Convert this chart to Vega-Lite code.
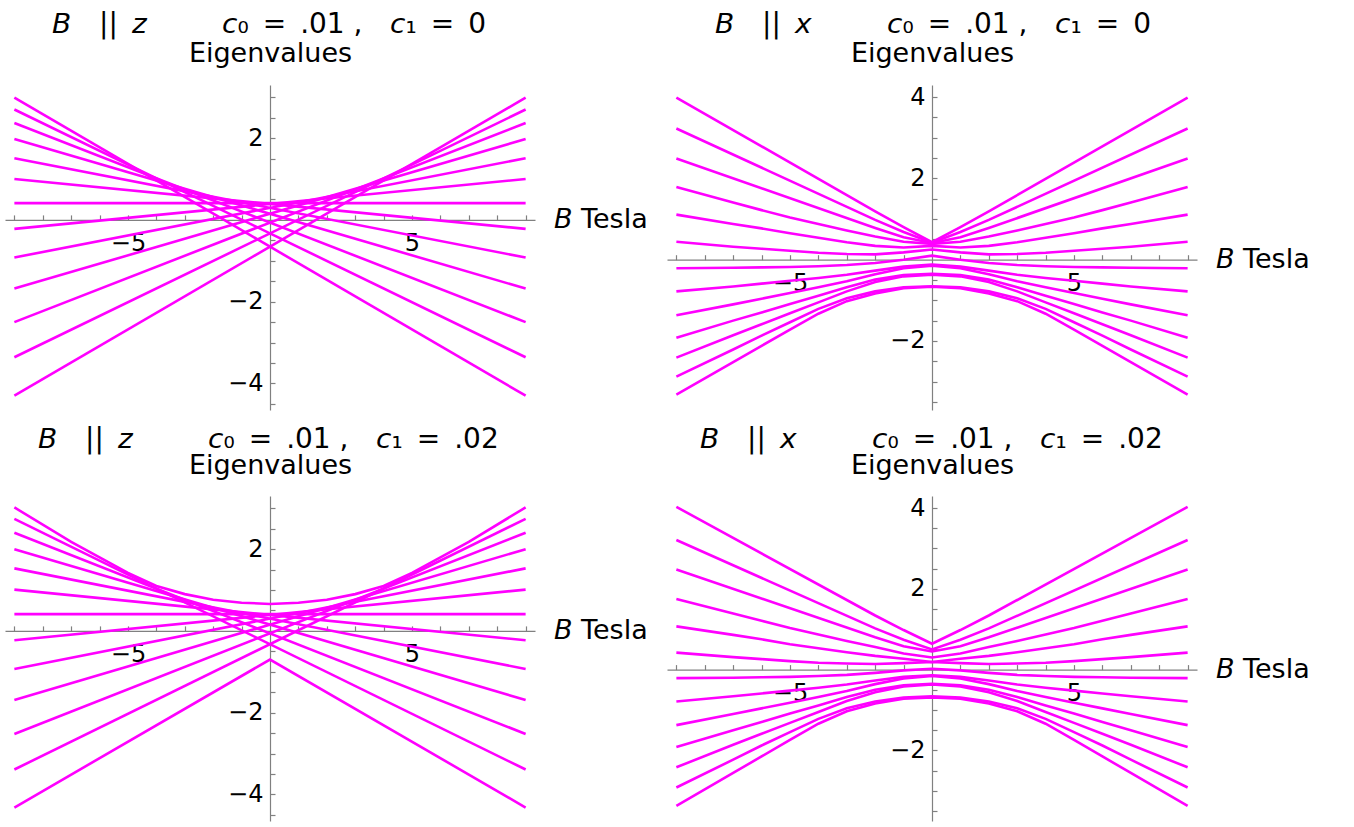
{
  "$schema": "https://vega.github.io/schema/vega-lite/v6.json",
  "background": "white",
  "padding": {"left": 5, "top": 11, "right": 5, "bottom": 5},
  "columns": 2,
  "spacing": {"row": 86, "column": 132},
  "bounds": "flush",
  "datasets": {
    "tl": [
      {"s":-6,"B":-9,"E":2.99},{"s":-6,"B":9,"E":-4.30},
      {"s":-5,"B":-9,"E":2.70},{"s":-5,"B":9,"E":-3.36},
      {"s":-4,"B":-9,"E":2.37},{"s":-4,"B":9,"E":-2.50},
      {"s":-3,"B":-9,"E":1.98},{"s":-3,"B":9,"E":-1.68},
      {"s":-2,"B":-9,"E":1.51},{"s":-2,"B":9,"E":-0.92},
      {"s":-1,"B":-9,"E":1.00},{"s":-1,"B":9,"E":-0.22},
      {"s":0,"B":-9,"E":0.41},{"s":0,"B":9,"E":0.41},
      {"s":1,"B":-9,"E":-0.22},{"s":1,"B":9,"E":1.00},
      {"s":2,"B":-9,"E":-0.92},{"s":2,"B":9,"E":1.51},
      {"s":3,"B":-9,"E":-1.68},{"s":3,"B":9,"E":1.98},
      {"s":4,"B":-9,"E":-2.50},{"s":4,"B":9,"E":2.37},
      {"s":5,"B":-9,"E":-3.36},{"s":5,"B":9,"E":2.70},
      {"s":6,"B":-9,"E":-4.30},{"s":6,"B":9,"E":2.99}
    ],
    "bl": [
      {"s":"u","B":-9,"E":3.02},{"s":"u","B":-7,"E":2.18},{"s":"u","B":-6,"E":1.80},{"s":"u","B":-5,"E":1.42},{"s":"u","B":-4,"E":1.10},{"s":"u","B":-3,"E":0.90},{"s":"u","B":-2,"E":0.76},{"s":"u","B":-1,"E":0.69},{"s":"u","B":0,"E":0.66},{"s":"u","B":1,"E":0.69},{"s":"u","B":2,"E":0.76},{"s":"u","B":3,"E":0.90},{"s":"u","B":4,"E":1.10},{"s":"u","B":5,"E":1.42},{"s":"u","B":6,"E":1.80},{"s":"u","B":7,"E":2.18},{"s":"u","B":9,"E":3.02},
      {"s":"d","B":-9,"E":-4.32},{"s":"d","B":0,"E":-0.70},{"s":"d","B":9,"E":-4.32},
      {"s":"-5","B":-9,"E":2.74},{"s":"-5","B":9,"E":-3.39},
      {"s":"-4","B":-9,"E":2.40},{"s":"-4","B":9,"E":-2.52},
      {"s":"-3","B":-9,"E":2.00},{"s":"-3","B":9,"E":-1.69},
      {"s":"-2","B":-9,"E":1.53},{"s":"-2","B":9,"E":-0.93},
      {"s":"-1","B":-9,"E":1.01},{"s":"-1","B":9,"E":-0.23},
      {"s":"0","B":-9,"E":0.41},{"s":"0","B":9,"E":0.41},
      {"s":"1","B":-9,"E":-0.23},{"s":"1","B":9,"E":1.01},
      {"s":"2","B":-9,"E":-0.93},{"s":"2","B":9,"E":1.53},
      {"s":"3","B":-9,"E":-1.69},{"s":"3","B":9,"E":2.00},
      {"s":"4","B":-9,"E":-2.52},{"s":"4","B":9,"E":2.40},
      {"s":"5","B":-9,"E":-3.39},{"s":"5","B":9,"E":2.74}
    ],
    "tr": [
      {"s":6,"B":-9,"E":3.99},{"s":6,"B":-2,"E":1.19},{"s":6,"B":-1,"E":0.80},{"s":6,"B":0,"E":0.43},{"s":6,"B":1,"E":0.80},{"s":6,"B":2,"E":1.19},{"s":6,"B":9,"E":3.99},
      {"s":5,"B":-9,"E":3.23},{"s":5,"B":-2,"E":0.98},{"s":5,"B":-1,"E":0.68},{"s":5,"B":0,"E":0.42},{"s":5,"B":1,"E":0.68},{"s":5,"B":2,"E":0.98},{"s":5,"B":9,"E":3.23},
      {"s":4,"B":-9,"E":2.49},{"s":4,"B":-2,"E":0.78},{"s":4,"B":-1,"E":0.55},{"s":4,"B":0,"E":0.41},{"s":4,"B":1,"E":0.55},{"s":4,"B":2,"E":0.78},{"s":4,"B":9,"E":2.49},
      {"s":3,"B":-9,"E":1.79},{"s":3,"B":-7,"E":1.41},{"s":3,"B":-6,"E":1.22},{"s":3,"B":-5,"E":1.04},{"s":3,"B":-4,"E":0.88},{"s":3,"B":-3,"E":0.72},{"s":3,"B":-2,"E":0.57},{"s":3,"B":-1,"E":0.44},{"s":3,"B":0,"E":0.39},{"s":3,"B":1,"E":0.44},{"s":3,"B":2,"E":0.57},{"s":3,"B":3,"E":0.72},{"s":3,"B":4,"E":0.88},{"s":3,"B":5,"E":1.04},{"s":3,"B":6,"E":1.22},{"s":3,"B":7,"E":1.41},{"s":3,"B":9,"E":1.79},
      {"s":2,"B":-9,"E":1.11},{"s":2,"B":-7,"E":0.88},{"s":2,"B":-6,"E":0.77},{"s":2,"B":-5,"E":0.65},{"s":2,"B":-4,"E":0.54},{"s":2,"B":-3,"E":0.43},{"s":2,"B":-2,"E":0.34},{"s":2,"B":-1,"E":0.30},{"s":2,"B":0,"E":0.34},{"s":2,"B":1,"E":0.30},{"s":2,"B":2,"E":0.34},{"s":2,"B":3,"E":0.43},{"s":2,"B":4,"E":0.54},{"s":2,"B":5,"E":0.65},{"s":2,"B":6,"E":0.77},{"s":2,"B":7,"E":0.88},{"s":2,"B":9,"E":1.11},
      {"s":1,"B":-9,"E":0.44},{"s":1,"B":-7,"E":0.32},{"s":1,"B":-6,"E":0.27},{"s":1,"B":-5,"E":0.22},{"s":1,"B":-4,"E":0.17},{"s":1,"B":-3,"E":0.14},{"s":1,"B":-2,"E":0.13},{"s":1,"B":-1,"E":0.18},{"s":1,"B":0,"E":0.25},{"s":1,"B":1,"E":0.18},{"s":1,"B":2,"E":0.13},{"s":1,"B":3,"E":0.14},{"s":1,"B":4,"E":0.17},{"s":1,"B":5,"E":0.22},{"s":1,"B":6,"E":0.27},{"s":1,"B":7,"E":0.32},{"s":1,"B":9,"E":0.44},
      {"s":0,"B":-9,"E":-0.21},{"s":0,"B":-7,"E":-0.20},{"s":0,"B":-6,"E":-0.19},{"s":0,"B":-5,"E":-0.18},{"s":0,"B":-4,"E":-0.16},{"s":0,"B":-3,"E":-0.13},{"s":0,"B":-2,"E":-0.08},{"s":0,"B":-1,"E":0.00},{"s":0,"B":0,"E":0.10},{"s":0,"B":1,"E":0.00},{"s":0,"B":2,"E":-0.08},{"s":0,"B":3,"E":-0.13},{"s":0,"B":4,"E":-0.16},{"s":0,"B":5,"E":-0.18},{"s":0,"B":6,"E":-0.19},{"s":0,"B":7,"E":-0.20},{"s":0,"B":9,"E":-0.21},
      {"s":-1,"B":-9,"E":-0.78},{"s":-1,"B":-7,"E":-0.66},{"s":-1,"B":-6,"E":-0.59},{"s":-1,"B":-5,"E":-0.52},{"s":-1,"B":-4,"E":-0.45},{"s":-1,"B":-3,"E":-0.37},{"s":-1,"B":-2,"E":-0.27},{"s":-1,"B":-1,"E":-0.17},{"s":-1,"B":0,"E":-0.12},{"s":-1,"B":1,"E":-0.17},{"s":-1,"B":2,"E":-0.27},{"s":-1,"B":3,"E":-0.37},{"s":-1,"B":4,"E":-0.45},{"s":-1,"B":5,"E":-0.52},{"s":-1,"B":6,"E":-0.59},{"s":-1,"B":7,"E":-0.66},{"s":-1,"B":9,"E":-0.78},
      {"s":-2,"B":-9,"E":-1.37},{"s":-2,"B":-7,"E":-1.10},{"s":-2,"B":-6,"E":-0.96},{"s":-2,"B":-5,"E":-0.82},{"s":-2,"B":-4,"E":-0.68},{"s":-2,"B":-3,"E":-0.53},{"s":-2,"B":-2,"E":-0.36},{"s":-2,"B":-1,"E":-0.21},{"s":-2,"B":0,"E":-0.15},{"s":-2,"B":1,"E":-0.21},{"s":-2,"B":2,"E":-0.36},{"s":-2,"B":3,"E":-0.53},{"s":-2,"B":4,"E":-0.68},{"s":-2,"B":5,"E":-0.82},{"s":-2,"B":6,"E":-0.96},{"s":-2,"B":7,"E":-1.10},{"s":-2,"B":9,"E":-1.37},
      {"s":-3,"B":-9,"E":-1.92},{"s":-3,"B":-7,"E":-1.50},{"s":-3,"B":-6,"E":-1.30},{"s":-3,"B":-5,"E":-1.09},{"s":-3,"B":-4,"E":-0.89},{"s":-3,"B":-3,"E":-0.68},{"s":-3,"B":-2,"E":-0.49},{"s":-3,"B":-1,"E":-0.38},{"s":-3,"B":0,"E":-0.35},{"s":-3,"B":1,"E":-0.38},{"s":-3,"B":2,"E":-0.49},{"s":-3,"B":3,"E":-0.68},{"s":-3,"B":4,"E":-0.89},{"s":-3,"B":5,"E":-1.09},{"s":-3,"B":6,"E":-1.30},{"s":-3,"B":7,"E":-1.50},{"s":-3,"B":9,"E":-1.92},
      {"s":-4,"B":-9,"E":-2.41},{"s":-4,"B":-7,"E":-1.86},{"s":-4,"B":-6,"E":-1.59},{"s":-4,"B":-5,"E":-1.32},{"s":-4,"B":-4,"E":-1.05},{"s":-4,"B":-3,"E":-0.78},{"s":-4,"B":-2,"E":-0.55},{"s":-4,"B":-1,"E":-0.41},{"s":-4,"B":0,"E":-0.37},{"s":-4,"B":1,"E":-0.41},{"s":-4,"B":2,"E":-0.55},{"s":-4,"B":3,"E":-0.78},{"s":-4,"B":4,"E":-1.05},{"s":-4,"B":5,"E":-1.32},{"s":-4,"B":6,"E":-1.59},{"s":-4,"B":7,"E":-1.86},{"s":-4,"B":9,"E":-2.41},
      {"s":-5,"B":-9,"E":-2.88},{"s":-5,"B":-7,"E":-2.21},{"s":-5,"B":-6,"E":-1.87},{"s":-5,"B":-5,"E":-1.54},{"s":-5,"B":-4,"E":-1.21},{"s":-5,"B":-3,"E":-0.95},{"s":-5,"B":-2,"E":-0.78},{"s":-5,"B":-1,"E":-0.68},{"s":-5,"B":0,"E":-0.655},{"s":-5,"B":1,"E":-0.68},{"s":-5,"B":2,"E":-0.78},{"s":-5,"B":3,"E":-0.95},{"s":-5,"B":4,"E":-1.21},{"s":-5,"B":5,"E":-1.54},{"s":-5,"B":6,"E":-1.87},{"s":-5,"B":7,"E":-2.21},{"s":-5,"B":9,"E":-2.88},
      {"s":-6,"B":-9,"E":-3.32},{"s":-6,"B":-7,"E":-2.52},{"s":-6,"B":-6,"E":-2.12},{"s":-6,"B":-5,"E":-1.72},{"s":-6,"B":-4,"E":-1.33},{"s":-6,"B":-3,"E":-1.02},{"s":-6,"B":-2,"E":-0.83},{"s":-6,"B":-1,"E":-0.70},{"s":-6,"B":0,"E":-0.665},{"s":-6,"B":1,"E":-0.70},{"s":-6,"B":2,"E":-0.83},{"s":-6,"B":3,"E":-1.02},{"s":-6,"B":4,"E":-1.33},{"s":-6,"B":5,"E":-1.72},{"s":-6,"B":6,"E":-2.12},{"s":-6,"B":7,"E":-2.52},{"s":-6,"B":9,"E":-3.32}
    ],
    "br": [
      {"s":6,"B":-9,"E":4.03},{"s":6,"B":-2,"E":1.34},{"s":6,"B":-1,"E":0.98},{"s":6,"B":0,"E":0.64},{"s":6,"B":1,"E":0.98},{"s":6,"B":2,"E":1.34},{"s":6,"B":9,"E":4.03},
      {"s":5,"B":-9,"E":3.21},{"s":5,"B":-2,"E":1.02},{"s":5,"B":-1,"E":0.74},{"s":5,"B":0,"E":0.50},{"s":5,"B":1,"E":0.74},{"s":5,"B":2,"E":1.02},{"s":5,"B":9,"E":3.21},
      {"s":4,"B":-9,"E":2.48},{"s":4,"B":-2,"E":0.80},{"s":4,"B":-1,"E":0.58},{"s":4,"B":0,"E":0.45},{"s":4,"B":1,"E":0.58},{"s":4,"B":2,"E":0.80},{"s":4,"B":9,"E":2.48},
      {"s":3,"B":-9,"E":1.75},{"s":3,"B":-7,"E":1.39},{"s":3,"B":-6,"E":1.21},{"s":3,"B":-5,"E":1.03},{"s":3,"B":-4,"E":0.87},{"s":3,"B":-3,"E":0.71},{"s":3,"B":-2,"E":0.56},{"s":3,"B":-1,"E":0.40},{"s":3,"B":0,"E":0.30},{"s":3,"B":1,"E":0.40},{"s":3,"B":2,"E":0.56},{"s":3,"B":3,"E":0.71},{"s":3,"B":4,"E":0.87},{"s":3,"B":5,"E":1.03},{"s":3,"B":6,"E":1.21},{"s":3,"B":7,"E":1.39},{"s":3,"B":9,"E":1.75},
      {"s":2,"B":-9,"E":1.07},{"s":2,"B":-7,"E":0.86},{"s":2,"B":-6,"E":0.75},{"s":2,"B":-5,"E":0.63},{"s":2,"B":-4,"E":0.53},{"s":2,"B":-3,"E":0.43},{"s":2,"B":-2,"E":0.34},{"s":2,"B":-1,"E":0.27},{"s":2,"B":0,"E":0.19},{"s":2,"B":1,"E":0.27},{"s":2,"B":2,"E":0.34},{"s":2,"B":3,"E":0.43},{"s":2,"B":4,"E":0.53},{"s":2,"B":5,"E":0.63},{"s":2,"B":6,"E":0.75},{"s":2,"B":7,"E":0.86},{"s":2,"B":9,"E":1.07},
      {"s":1,"B":-9,"E":0.42},{"s":1,"B":-7,"E":0.31},{"s":1,"B":-6,"E":0.26},{"s":1,"B":-5,"E":0.21},{"s":1,"B":-4,"E":0.17},{"s":1,"B":-3,"E":0.15},{"s":1,"B":-2,"E":0.14},{"s":1,"B":-1,"E":0.16},{"s":1,"B":0,"E":0.19},{"s":1,"B":1,"E":0.16},{"s":1,"B":2,"E":0.14},{"s":1,"B":3,"E":0.15},{"s":1,"B":4,"E":0.17},{"s":1,"B":5,"E":0.21},{"s":1,"B":6,"E":0.26},{"s":1,"B":7,"E":0.31},{"s":1,"B":9,"E":0.42},
      {"s":0,"B":-9,"E":-0.21},{"s":0,"B":-7,"E":-0.20},{"s":0,"B":-6,"E":-0.19},{"s":0,"B":-5,"E":-0.18},{"s":0,"B":-4,"E":-0.16},{"s":0,"B":-3,"E":-0.13},{"s":0,"B":-2,"E":-0.08},{"s":0,"B":-1,"E":-0.02},{"s":0,"B":0,"E":0.02},{"s":0,"B":1,"E":-0.02},{"s":0,"B":2,"E":-0.08},{"s":0,"B":3,"E":-0.13},{"s":0,"B":4,"E":-0.16},{"s":0,"B":5,"E":-0.18},{"s":0,"B":6,"E":-0.19},{"s":0,"B":7,"E":-0.20},{"s":0,"B":9,"E":-0.21},
      {"s":-1,"B":-9,"E":-0.79},{"s":-1,"B":-7,"E":-0.66},{"s":-1,"B":-6,"E":-0.59},{"s":-1,"B":-5,"E":-0.52},{"s":-1,"B":-4,"E":-0.45},{"s":-1,"B":-3,"E":-0.37},{"s":-1,"B":-2,"E":-0.27},{"s":-1,"B":-1,"E":-0.18},{"s":-1,"B":0,"E":-0.14},{"s":-1,"B":1,"E":-0.18},{"s":-1,"B":2,"E":-0.27},{"s":-1,"B":3,"E":-0.37},{"s":-1,"B":4,"E":-0.45},{"s":-1,"B":5,"E":-0.52},{"s":-1,"B":6,"E":-0.59},{"s":-1,"B":7,"E":-0.66},{"s":-1,"B":9,"E":-0.79},
      {"s":-2,"B":-9,"E":-1.375},{"s":-2,"B":-7,"E":-1.10},{"s":-2,"B":-6,"E":-0.96},{"s":-2,"B":-5,"E":-0.82},{"s":-2,"B":-4,"E":-0.68},{"s":-2,"B":-3,"E":-0.53},{"s":-2,"B":-2,"E":-0.36},{"s":-2,"B":-1,"E":-0.22},{"s":-2,"B":0,"E":-0.16},{"s":-2,"B":1,"E":-0.22},{"s":-2,"B":2,"E":-0.36},{"s":-2,"B":3,"E":-0.53},{"s":-2,"B":4,"E":-0.68},{"s":-2,"B":5,"E":-0.82},{"s":-2,"B":6,"E":-0.96},{"s":-2,"B":7,"E":-1.10},{"s":-2,"B":9,"E":-1.375},
      {"s":-3,"B":-9,"E":-1.92},{"s":-3,"B":-7,"E":-1.50},{"s":-3,"B":-6,"E":-1.30},{"s":-3,"B":-5,"E":-1.09},{"s":-3,"B":-4,"E":-0.89},{"s":-3,"B":-3,"E":-0.68},{"s":-3,"B":-2,"E":-0.50},{"s":-3,"B":-1,"E":-0.39},{"s":-3,"B":0,"E":-0.35},{"s":-3,"B":1,"E":-0.39},{"s":-3,"B":2,"E":-0.50},{"s":-3,"B":3,"E":-0.68},{"s":-3,"B":4,"E":-0.89},{"s":-3,"B":5,"E":-1.09},{"s":-3,"B":6,"E":-1.30},{"s":-3,"B":7,"E":-1.50},{"s":-3,"B":9,"E":-1.92},
      {"s":-4,"B":-9,"E":-2.42},{"s":-4,"B":-7,"E":-1.86},{"s":-4,"B":-6,"E":-1.59},{"s":-4,"B":-5,"E":-1.32},{"s":-4,"B":-4,"E":-1.05},{"s":-4,"B":-3,"E":-0.78},{"s":-4,"B":-2,"E":-0.56},{"s":-4,"B":-1,"E":-0.42},{"s":-4,"B":0,"E":-0.37},{"s":-4,"B":1,"E":-0.42},{"s":-4,"B":2,"E":-0.56},{"s":-4,"B":3,"E":-0.78},{"s":-4,"B":4,"E":-1.05},{"s":-4,"B":5,"E":-1.32},{"s":-4,"B":6,"E":-1.59},{"s":-4,"B":7,"E":-1.86},{"s":-4,"B":9,"E":-2.42},
      {"s":-5,"B":-9,"E":-2.92},{"s":-5,"B":-7,"E":-2.23},{"s":-5,"B":-6,"E":-1.88},{"s":-5,"B":-5,"E":-1.55},{"s":-5,"B":-4,"E":-1.22},{"s":-5,"B":-3,"E":-0.96},{"s":-5,"B":-2,"E":-0.79},{"s":-5,"B":-1,"E":-0.69},{"s":-5,"B":0,"E":-0.66},{"s":-5,"B":1,"E":-0.69},{"s":-5,"B":2,"E":-0.79},{"s":-5,"B":3,"E":-0.96},{"s":-5,"B":4,"E":-1.22},{"s":-5,"B":5,"E":-1.55},{"s":-5,"B":6,"E":-1.88},{"s":-5,"B":7,"E":-2.23},{"s":-5,"B":9,"E":-2.92},
      {"s":-6,"B":-9,"E":-3.375},{"s":-6,"B":-7,"E":-2.56},{"s":-6,"B":-6,"E":-2.15},{"s":-6,"B":-5,"E":-1.74},{"s":-6,"B":-4,"E":-1.34},{"s":-6,"B":-3,"E":-1.03},{"s":-6,"B":-2,"E":-0.84},{"s":-6,"B":-1,"E":-0.72},{"s":-6,"B":0,"E":-0.69},{"s":-6,"B":1,"E":-0.72},{"s":-6,"B":2,"E":-0.84},{"s":-6,"B":3,"E":-1.03},{"s":-6,"B":4,"E":-1.34},{"s":-6,"B":5,"E":-1.74},{"s":-6,"B":6,"E":-2.15},{"s":-6,"B":7,"E":-2.56},{"s":-6,"B":9,"E":-3.375}
    ]
  },
  "concat": [
    {
      "width": 530, "height": 325,
      "data": {"name": "tl"},
      "title": {"text": "𝘉\u2003||\u2002𝘻\u2003\u2003\u2002\u2009𝘤₀\u2002=\u2002.01 ,\u2003𝘤₁\u2002=\u20020", "anchor": "start", "frame": "group", "dx": 47, "offset": -22, "baseline": "alphabetic"},
      "mark": {"type": "line", "stroke": "#ff00ff", "strokeWidth": 2.6, "clip": false},
      "encoding": {
        "x": {"field": "B", "type": "quantitative", "scale": {"domain": [-9.33, 9.33], "nice": false, "zero": false},
          "axis": {"orient": "bottom", "offset": -190.1, "values": [-9,-8,-7,-6,-5,-4,-3,-2,-1,1,2,3,4,5,6,7,8,9], "labelExpr": "abs(datum.value) == 5 ? datum.label : ''", "format": "~g", "tickSize": -5, "labelPadding": 17, "title": "𝘉 Tesla", "titleX": 548, "titleY": 0, "titleAlign": "left", "titleBaseline": "middle", "titleAngle": 0}},
        "y": {"field": "E", "type": "quantitative", "scale": {"domain": [-4.65, 3.3], "nice": false, "zero": false},
          "axis": {"orient": "left", "offset": -265, "values": [-4.5,-4,-3.5,-3,-2.5,-2,-1.5,-1,-0.5,0.5,1,1.5,2,2.5,3], "labelExpr": "abs(datum.value) == 2 || abs(datum.value) == 4 ? datum.label : ''", "format": "~g", "tickSize": -5, "labelPadding": 12, "title": "Eigenvalues", "titleAngle": 0, "titleX": 0, "titleY": -24, "titleAlign": "center", "titleBaseline": "alphabetic"}},
        "detail": {"field": "s", "type": "nominal"}
      }
    },
    {
      "width": 530, "height": 325,
      "data": {"name": "tr"},
      "title": {"text": "𝘉\u2003||\u2002𝘹\u2003\u2003\u2002\u2009𝘤₀\u2002=\u2002.01 ,\u2003𝘤₁\u2002=\u20020", "anchor": "start", "frame": "group", "dx": 48, "offset": -22, "baseline": "alphabetic"},
      "mark": {"type": "line", "stroke": "#ff00ff", "strokeWidth": 2.6, "clip": false},
      "encoding": {
        "x": {"field": "B", "type": "quantitative", "scale": {"domain": [-9.33, 9.33], "nice": false, "zero": false},
          "axis": {"orient": "bottom", "offset": -150.3, "values": [-9,-8,-7,-6,-5,-4,-3,-2,-1,1,2,3,4,5,6,7,8,9], "labelExpr": "abs(datum.value) == 5 ? datum.label : ''", "format": "~g", "tickSize": -5, "labelPadding": 17, "title": "𝘉 Tesla", "titleX": 548, "titleY": 0, "titleAlign": "left", "titleBaseline": "middle", "titleAngle": 0}},
        "y": {"field": "E", "type": "quantitative", "scale": {"domain": [-3.7, 4.3], "nice": false, "zero": false},
          "axis": {"orient": "left", "offset": -265, "values": [-3.5,-3,-2.5,-2,-1.5,-1,-0.5,0.5,1,1.5,2,2.5,3,3.5,4], "labelExpr": "abs(datum.value) == 2 || abs(datum.value) == 4 ? datum.label : ''", "format": "~g", "tickSize": -5, "labelPadding": 12, "title": "Eigenvalues", "titleAngle": 0, "titleX": 0, "titleY": -24, "titleAlign": "center", "titleBaseline": "alphabetic"}},
        "detail": {"field": "s", "type": "nominal"}
      }
    },
    {
      "width": 530, "height": 325,
      "data": {"name": "bl"},
      "title": {"text": "𝘉\u2003||\u2002𝘻\u2003\u2003\u2002\u2009𝘤₀\u2002=\u2002.01 ,\u2003𝘤₁\u2002=\u2002.02", "anchor": "start", "frame": "group", "dx": 33, "offset": -25, "baseline": "alphabetic"},
      "mark": {"type": "line", "stroke": "#ff00ff", "strokeWidth": 2.6, "clip": false},
      "encoding": {
        "x": {"field": "B", "type": "quantitative", "scale": {"domain": [-9.33, 9.33], "nice": false, "zero": false},
          "axis": {"orient": "bottom", "offset": -190.1, "values": [-9,-8,-7,-6,-5,-4,-3,-2,-1,1,2,3,4,5,6,7,8,9], "labelExpr": "abs(datum.value) == 5 ? datum.label : ''", "format": "~g", "tickSize": -5, "labelPadding": 17, "title": "𝘉 Tesla", "titleX": 548, "titleY": 0, "titleAlign": "left", "titleBaseline": "middle", "titleAngle": 0}},
        "y": {"field": "E", "type": "quantitative", "scale": {"domain": [-4.65, 3.3], "nice": false, "zero": false},
          "axis": {"orient": "left", "offset": -265, "values": [-4.5,-4,-3.5,-3,-2.5,-2,-1.5,-1,-0.5,0.5,1,1.5,2,2.5,3], "labelExpr": "abs(datum.value) == 2 || abs(datum.value) == 4 ? datum.label : ''", "format": "~g", "tickSize": -5, "labelPadding": 12, "title": "Eigenvalues", "titleAngle": 0, "titleX": 0, "titleY": -23, "titleAlign": "center", "titleBaseline": "alphabetic"}},
        "detail": {"field": "s", "type": "nominal"}
      }
    },
    {
      "width": 530, "height": 325,
      "data": {"name": "br"},
      "title": {"text": "𝘉\u2003||\u2002𝘹\u2003\u2003\u2002\u2009𝘤₀\u2002=\u2002.01 ,\u2003𝘤₁\u2002=\u2002.02", "anchor": "start", "frame": "group", "dx": 33, "offset": -25, "baseline": "alphabetic"},
      "mark": {"type": "line", "stroke": "#ff00ff", "strokeWidth": 2.6, "clip": false},
      "encoding": {
        "x": {"field": "B", "type": "quantitative", "scale": {"domain": [-9.33, 9.33], "nice": false, "zero": false},
          "axis": {"orient": "bottom", "offset": -151.4, "values": [-9,-8,-7,-6,-5,-4,-3,-2,-1,1,2,3,4,5,6,7,8,9], "labelExpr": "abs(datum.value) == 5 ? datum.label : ''", "format": "~g", "tickSize": -5, "labelPadding": 17, "title": "𝘉 Tesla", "titleX": 548, "titleY": 0, "titleAlign": "left", "titleBaseline": "middle", "titleAngle": 0}},
        "y": {"field": "E", "type": "quantitative", "scale": {"domain": [-3.75, 4.3], "nice": false, "zero": false},
          "axis": {"orient": "left", "offset": -265, "values": [-3.5,-3,-2.5,-2,-1.5,-1,-0.5,0.5,1,1.5,2,2.5,3,3.5,4], "labelExpr": "abs(datum.value) == 2 || abs(datum.value) == 4 ? datum.label : ''", "format": "~g", "tickSize": -5, "labelPadding": 12, "title": "Eigenvalues", "titleAngle": 0, "titleX": 0, "titleY": -23, "titleAlign": "center", "titleBaseline": "alphabetic"}},
        "detail": {"field": "s", "type": "nominal"}
      }
    }
  ],
  "config": {
    "view": {"stroke": null},
    "font": "DejaVu Sans",
    "title": {"font": "DejaVu Sans", "fontSize": 28, "fontWeight": "normal", "color": "#000000"},
    "axis": {"grid": false, "domainColor": "#808080", "domainWidth": 1.2, "tickColor": "#808080", "tickWidth": 1.2, "labelColor": "#000000", "labelFont": "DejaVu Sans", "labelFontSize": 24, "labelOverlap": false, "labelFlush": false, "labelBound": false, "titleColor": "#000000", "titleFont": "DejaVu Sans", "titleFontSize": 27, "titleFontWeight": "normal", "titlePadding": 0}
  }
}
